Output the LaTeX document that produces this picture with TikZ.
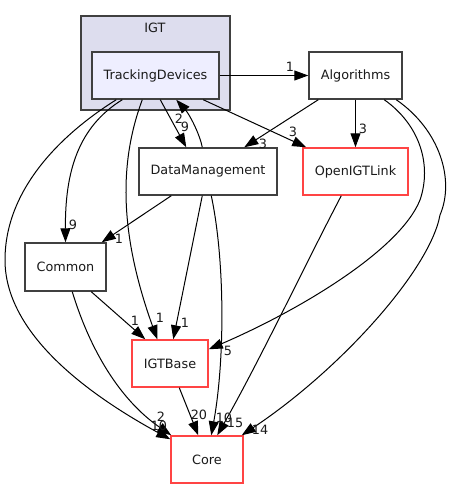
\documentclass[tikz,border=0pt]{standalone}
\usepackage{fontspec}
\setmainfont{DejaVu Sans}
\usetikzlibrary{arrows.meta,calc}
\definecolor{clfill}{HTML}{DDDDEE}
\definecolor{tdfill}{HTML}{EEEEFF}
\definecolor{dgray}{HTML}{404040}
\definecolor{rborder}{HTML}{FF4444}
\definecolor{txt}{HTML}{1A1A1A}
\newcommand{\nodefnt}{\fontsize{9.6pt}{11pt}\selectfont}
\newcommand{\labfnt}{\fontsize{9.6pt}{11pt}\selectfont}
\tikzset{
  cluster/.style={draw=dgray, fill=clfill, line width=1pt, inner sep=0pt},
  dirbox/.style={draw=dgray, fill=white, line width=1.1pt, inner sep=0pt, font=\nodefnt, text=txt},
  redbox/.style={dirbox, draw=rborder},
  dep/.style={draw=black, line width=0.75pt, -{Triangle[length=10.5pt,width=7.5pt]}},
  lab/.style={font=\labfnt, inner sep=0pt, text=txt}
}
\begin{document}
\begin{tikzpicture}[x=0.75pt,y=-0.75pt]
\useasboundingbox (0,0) rectangle (454,489);
% cluster
\node[cluster, minimum width=111.75pt, minimum height=70.5pt] (igt) at (155.5,63) {};
\node[lab, font=\nodefnt] (igtlabel) at (155,28) {IGT};
% nodes
\node[dirbox, fill=tdfill, minimum width=95.25pt, minimum height=35.25pt] (td) at (155.5,75.5) {TrackingDevices};
\node[dirbox, minimum width=69.75pt, minimum height=35.25pt] (alg) at (355.5,75.5) {Algorithms};
\node[dirbox, minimum width=103.5pt, minimum height=35.25pt] (dm) at (208,171.5) {DataManagement};
\node[redbox, minimum width=78.75pt, minimum height=35.25pt] (oil) at (355.5,171.5) {OpenIGTLink};
\node[dirbox, minimum width=60.75pt, minimum height=36pt] (common) at (65.5,267) {Common};
\node[redbox, minimum width=57pt, minimum height=35.25pt] (igtb) at (170,363.5) {IGTBase};
\node[redbox, minimum width=54pt, minimum height=35.25pt] (core) at (207,459.5) {Core};
% edges
\draw[dep] (td.east) -- (alg.west);
\draw[dep] ($(td.south west)+(69,0)$) -- ($(dm.north west)+(48,0)$);
\draw[dep] ($(dm.north west)+(64,0)$) .. controls (200,135) and (190,115) .. ($(td.south west)+(85,0)$);
\draw[dep] ($(td.south west)+(112,0)$) -- ($(oil.north west)+(4,0)$);
\draw[dep] ($(alg.south west)+(10,0)$) -- ($(dm.north west)+(106,0)$);
\draw[dep] (alg.south) -- (oil.north);
\draw[dep] ($(alg.south west)+(76,0)$) .. controls (420,125) and (432,165) .. (420,200) .. controls (400,250) and (300,310) .. ($(igtb.north east)+(0,10)$);
\draw[dep] ($(alg.south west)+(88,0)$) .. controls (440,130) and (455,180) .. (440,215) .. controls (430,270) and (340,370) .. ($(core.north east)+(-2,0)$);
\draw[dep] ($(td.south west)+(31,0)$) .. controls (78,127) and (65,172) .. (common.north);
\draw[dep] ($(td.south west)+(25,0)$) .. controls (60,135) and (5,190) .. (5,260) .. controls (5,330) and (80,390) .. ($(core.north west)+(0,4)$);
\draw[dep] ($(td.south west)+(51,0)$) .. controls (120,160) and (118,230) .. ($(igtb.north west)+(26,0)$);
\draw[dep] ($(dm.south west)+(33,0)$) -- ($(common.north east)+(-5,0)$);
\draw[dep] ($(dm.south west)+(64,0)$) -- ($(igtb.north west)+(42,0)$);
\draw[dep] ($(dm.south west)+(73,0)$) .. controls (225,260) and (225,360) .. ($(core.north west)+(41,0)$);
\draw[dep] ($(oil.south west)+(39,0)$) .. controls (305,265) and (260,360) .. ($(core.north west)+(47,0)$);
\draw[dep] ($(common.south west)+(67,0)$) -- ($(igtb.north west)+(14,0)$);
\draw[dep] ($(common.south west)+(48,0)$) .. controls (90,350) and (120,400) .. ($(core.north west)+(1,0)$);
\draw[dep] ($(igtb.south west)+(48,0)$) -- ($(core.north west)+(28,0)$);
% labels
\node[lab] (l1) at (290,67) {1};
\node[lab] (l2) at (179,119) {2};
\node[lab] (l3) at (185,127) {9};
\node[lab] (l4) at (293,132) {3};
\node[lab] (l5) at (263,144) {3};
\node[lab] (l6) at (363,129) {3};
\node[lab] (l7) at (73,225) {9};
\node[lab] (l8) at (119,239) {1};
\node[lab] (l9) at (135,321) {1};
\node[lab] (l10) at (160,318) {1};
\node[lab] (l11) at (185,323) {1};
\node[lab] (l12) at (228,351) {5};
\node[lab] (l13) at (161,417) {2};
\node[lab] (l14) at (159,426) {10};
\node[lab] (l15) at (199,415) {20};
\node[lab] (l16) at (224,418) {10};
\node[lab] (l17) at (235,423) {15};
\node[lab] (l18) at (260,430) {14};
\end{tikzpicture}
\end{document}
